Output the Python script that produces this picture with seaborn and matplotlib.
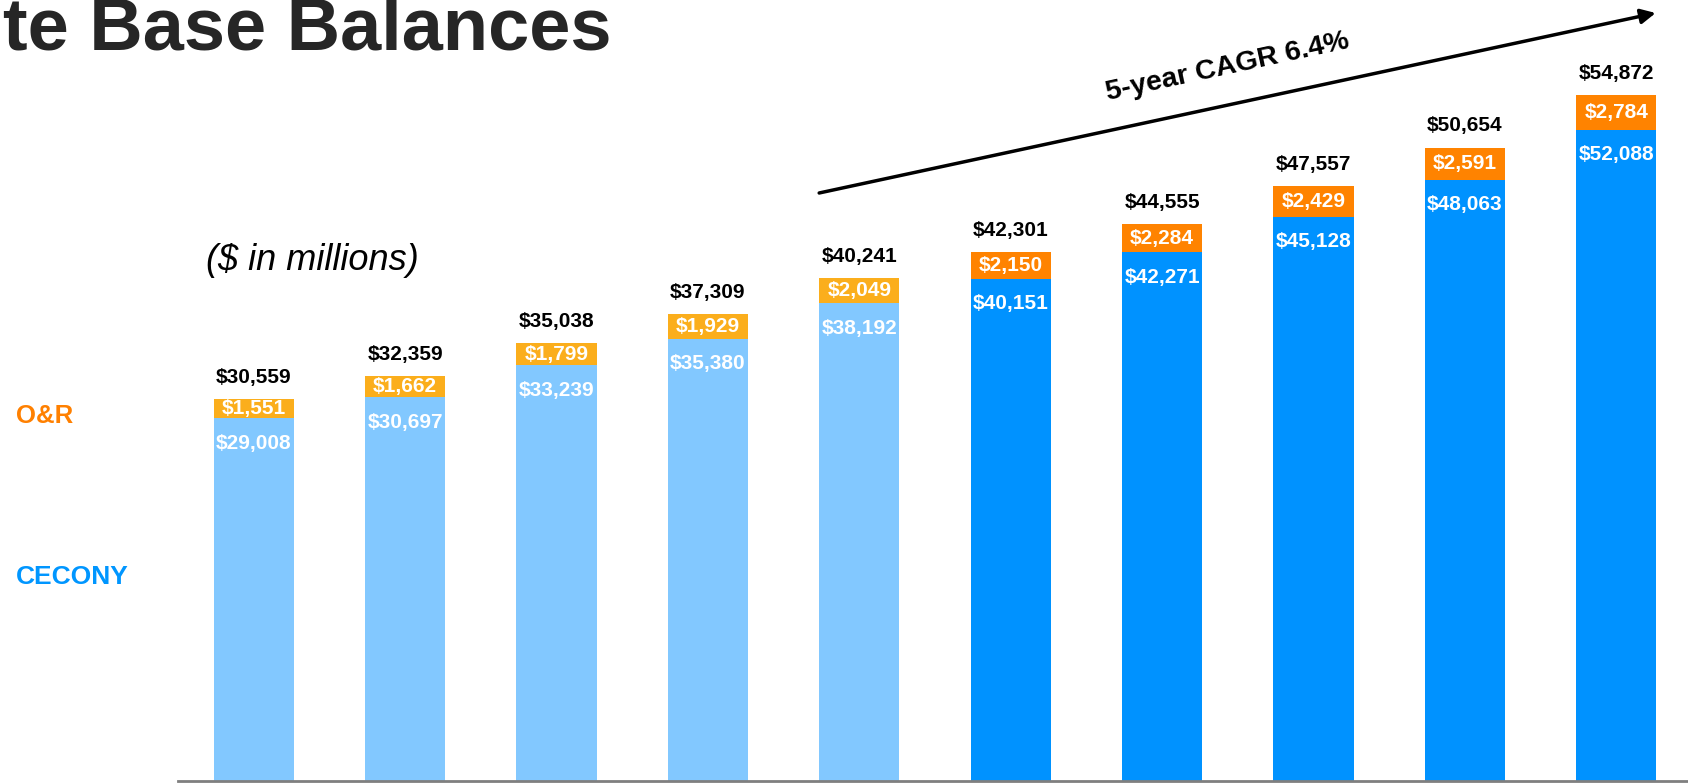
import matplotlib
matplotlib.use('Agg')
import matplotlib.pyplot as plt
import seaborn as sns
import pandas as pd

# ---- data ----
years = ['2019', '2020', '2021', '2022', '2023', '2024', '2025', '2026', '2027', '2028']
period = ['Actual'] * 5 + ['Forecast'] * 5
cecony = [29008, 30697, 33239, 35380, 38192, 40151, 42271, 45128, 48063, 52088]
onr = [1551, 1662, 1799, 1929, 2049, 2150, 2284, 2429, 2591, 2784]
totals = [30559, 32359, 35038, 37309, 40241, 42301, 44555, 47557, 50654, 54872]

title_text = 'te Base Balances'
units_text = '($ in millions)'
cagr_text = '5-year CAGR 6.4%'

df = pd.DataFrame({'year': years, 'period': period, 'cecony': cecony,
                   'onr': onr, 'total': totals})

sns.set_style('white')
plt.rcParams['font.family'] = ['Liberation Sans', 'DejaVu Sans']

W, H = 1688, 784
fig = plt.figure(figsize=(W / 100, H / 100), dpi=100)
ax = fig.add_axes([178 / W, 3 / H, 1514 / W, 781 / H])

orange_pal = {'Actual': '#FBAE1C', 'Forecast': '#FF8300'}
blue_pal = {'Actual': '#82C8FF', 'Forecast': '#0092FF'}

sns.barplot(data=df, x='year', y='total', hue='period', palette=orange_pal,
            dodge=False, width=0.53, saturation=1, legend=False, ax=ax,
            linewidth=0)
sns.barplot(data=df, x='year', y='cecony', hue='period', palette=blue_pal,
            dodge=False, width=0.53, saturation=1, legend=False, ax=ax,
            linewidth=0)

ax.set_xlim(-0.5, len(years) - 0.5)
ax.set_ylim(0, 62450)
ax.set_xlabel('')
ax.set_ylabel('')
ax.set_xticks([])
ax.set_yticks([])
for s in ['top', 'right', 'left']:
    ax.spines[s].set_visible(False)
ax.spines['bottom'].set_color('#7f7f7f')
ax.spines['bottom'].set_linewidth(2)

lab_kw = dict(ha='center', va='center', fontsize=15, fontweight='bold')
for i, (c, o, t) in enumerate(zip(cecony, onr, totals)):
    ax.annotate(f'${t:,}', (i, t), xytext=(0, 15.5), textcoords='offset points',
                color='black', **lab_kw)
    ax.annotate(f'${o:,}', (i, c + o / 2), color='white', **lab_kw)
    ax.annotate(f'${c:,}', (i, c), xytext=(0, -18), textcoords='offset points',
                color='white', **lab_kw)

# CAGR arrow
ax.annotate('', xy=(9.26, 61410), xytext=(3.735, 47018),
            arrowprops=dict(arrowstyle='-|>', color='black', lw=2.5,
                            mutation_scale=22, shrinkA=0, shrinkB=0))
ax.text(6.43, 57093, cagr_text, rotation=12.2, rotation_mode='anchor',
        ha='center', va='center', fontsize=20.5, fontweight='bold', color='black')

# titles and side labels
fig.text(3 / W, 1 - 49 / H, title_text, ha='left', va='baseline',
         fontsize=53.3, fontweight='bold', color='#262626')
fig.text(419 / W, 1 - 261 / H, units_text, ha='right', va='center',
         fontsize=26, style='italic', color='black')
fig.text(16 / W, 1 - 416 / H, 'O&R', ha='left', va='center',
         fontsize=18.5, fontweight='bold', color='#FF8000')
fig.text(16 / W, 1 - 577 / H, 'CECONY', ha='left', va='center',
         fontsize=19, fontweight='bold', color='#0096FF')

fig.savefig('out.png', dpi=100)
